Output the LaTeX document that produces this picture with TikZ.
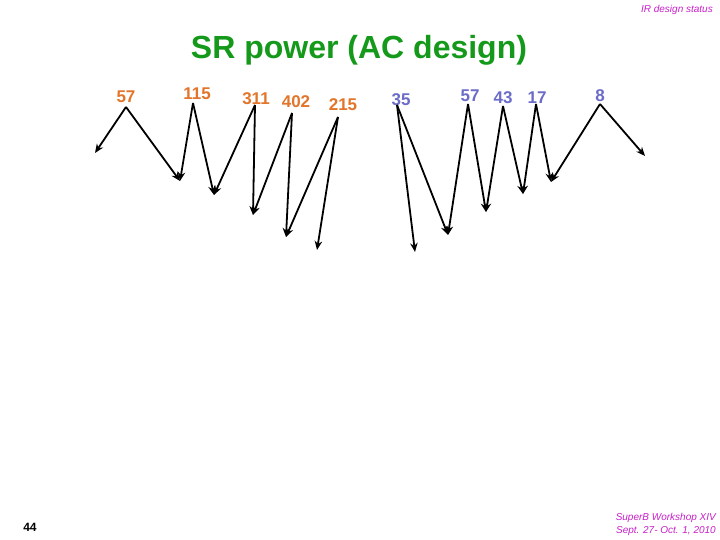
\documentclass[tikz,border=0pt]{standalone}
\usepackage{fontspec}
\setmainfont{Liberation Sans}
\usetikzlibrary{arrows.meta}
\definecolor{lblorange}{HTML}{E2752A}
\definecolor{lblblue}{HTML}{6B6BC8}
\definecolor{ttlgreen}{HTML}{14991A}
\definecolor{hdrmag}{HTML}{C81EC8}
\tikzset{
  orangelbl/.style={text=lblorange, font=\fontsize{17}{19}\selectfont\bfseries, inner sep=0pt},
  bluelbl/.style={text=lblblue, font=\fontsize{17}{19}\selectfont\bfseries, inner sep=0pt},
  arr/.style={draw=black, line width=1.8pt, -{Stealth[length=9pt,width=7.5pt]}}
}
\begin{document}
\begin{tikzpicture}[x=1pt,y=-1pt]
\useasboundingbox (0,0) rectangle (720,540);
% header / footer
\node[text=hdrmag, font=\fontsize{10}{12}\selectfont\itshape, anchor=east, inner sep=0pt] (hdr) at (713,10) {IR design status};
\node[text=ttlgreen, font=\fontsize{32}{36}\selectfont\bfseries, inner sep=0pt] (title) at (359,50) {SR power (AC design)};
\node[font=\fontsize{12}{14}\selectfont\bfseries, inner sep=0pt] (pg) at (30,527) {44};
\node[text=hdrmag, font=\fontsize{10}{13}\selectfont\itshape, anchor=east, align=right, inner sep=0pt] (ftr) at (716,524) {SuperB Workshop XIV\\Sept. 27- Oct. 1, 2010};
% labels
\node[orangelbl] (l57a) at (126,97) {57};
\node[orangelbl] (l115) at (197,94) {115};
\node[orangelbl] (l311) at (256,99) {311};
\node[orangelbl] (l402) at (296,102) {402};
\node[orangelbl] (l215) at (343,105) {215};
\node[bluelbl] (l35) at (401,100) {35};
\node[bluelbl] (l57b) at (470,96) {57};
\node[bluelbl] (l43) at (503,98) {43};
\node[bluelbl] (l17) at (537,98) {17};
\node[bluelbl] (l8) at (600,96) {8};
% start points
\coordinate (s57a) at (126,107);
\coordinate (s115) at (193,103);
\coordinate (s311) at (255,105);
\coordinate (s402) at (292,113);
\coordinate (s215) at (338,117);
\coordinate (s35) at (397,105);
\coordinate (s57b) at (468,104);
\coordinate (s43) at (503,106);
\coordinate (s17) at (536,104);
\coordinate (s8) at (600,104);
% end points
\coordinate (e1) at (95,153);
\coordinate (e2) at (180,181);
\coordinate (e3) at (214,195);
\coordinate (e4) at (253,215);
\coordinate (e5) at (286,237);
\coordinate (e6) at (317,250);
\coordinate (e7) at (415,252);
\coordinate (e8) at (448,235);
\coordinate (e9) at (486,212);
\coordinate (e10) at (523,194);
\coordinate (e11) at (551,182);
\coordinate (e12) at (645,156);
% arrows
\draw[arr] (s57a) -- (e1);
\draw[arr] (s57a) -- (e2);
\draw[arr] (s115) -- (e2);
\draw[arr] (s115) -- (e3);
\draw[arr] (s311) -- (e3);
\draw[arr] (s311) -- (e4);
\draw[arr] (s402) -- (e4);
\draw[arr] (s402) -- (e5);
\draw[arr] (s215) -- (e5);
\draw[arr] (s215) -- (e6);
\draw[arr] (s35) -- (e7);
\draw[arr] (s35) -- (e8);
\draw[arr] (s57b) -- (e8);
\draw[arr] (s57b) -- (e9);
\draw[arr] (s43) -- (e9);
\draw[arr] (s43) -- (e10);
\draw[arr] (s17) -- (e10);
\draw[arr] (s17) -- (e11);
\draw[arr] (s8) -- (e11);
\draw[arr] (s8) -- (e12);
\end{tikzpicture}
\end{document}
